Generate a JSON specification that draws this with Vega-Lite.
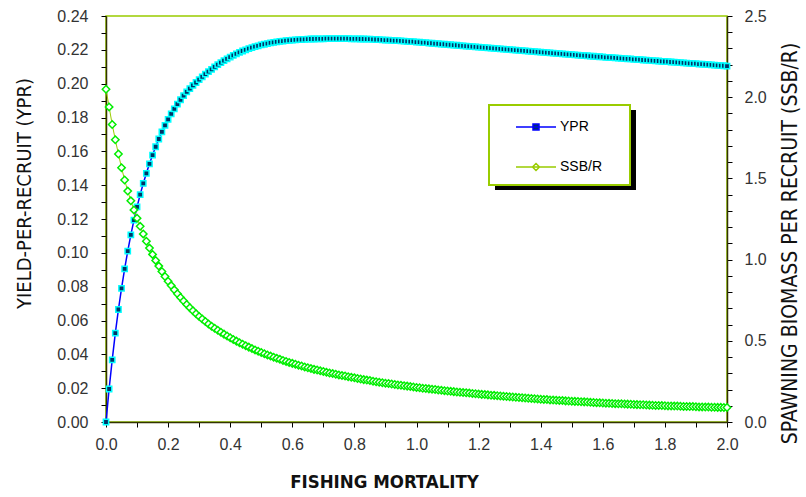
{
"$schema": "https://vega.github.io/schema/vega-lite/v6.json",
"width": 621, "height": 406,
"autosize": {"type": "none"},
"padding": {"left": 106, "top": 16, "right": 79, "bottom": 75},
"background": "white",
"config": {"view": {"stroke": "#99cc00", "strokeWidth": 1.5}, "font": "Liberation Sans"},
"data": {"values": [
{"F":0,"YPR":0,"SSB":2.049},{"F":0.01,"YPR":0.0195,"SSB":1.94},{"F":0.02,"YPR":0.0367,"SSB":1.832},{"F":0.03,"YPR":0.0525,"SSB":1.738},{"F":0.04,"YPR":0.0665,"SSB":1.65},
{"F":0.05,"YPR":0.079,"SSB":1.566},{"F":0.06,"YPR":0.0905,"SSB":1.49},{"F":0.07,"YPR":0.101,"SSB":1.422},{"F":0.08,"YPR":0.1106,"SSB":1.362},{"F":0.09,"YPR":0.1193,"SSB":1.306},
{"F":0.1,"YPR":0.1272,"SSB":1.255},{"F":0.11,"YPR":0.1344,"SSB":1.205},{"F":0.12,"YPR":0.141,"SSB":1.158},{"F":0.13,"YPR":0.147,"SSB":1.113},{"F":0.14,"YPR":0.1526,"SSB":1.071},
{"F":0.15,"YPR":0.1578,"SSB":1.032},{"F":0.16,"YPR":0.1627,"SSB":0.995},{"F":0.17,"YPR":0.1673,"SSB":0.96},{"F":0.18,"YPR":0.1715,"SSB":0.927},{"F":0.19,"YPR":0.1754,"SSB":0.896},
{"F":0.2,"YPR":0.1789,"SSB":0.867},{"F":0.21,"YPR":0.1821,"SSB":0.84},{"F":0.22,"YPR":0.1851,"SSB":0.814},{"F":0.23,"YPR":0.1879,"SSB":0.79},{"F":0.24,"YPR":0.1905,"SSB":0.767},
{"F":0.25,"YPR":0.1929,"SSB":0.745},{"F":0.26,"YPR":0.1951,"SSB":0.724},{"F":0.27,"YPR":0.1971,"SSB":0.704},{"F":0.28,"YPR":0.199,"SSB":0.685},{"F":0.29,"YPR":0.2007,"SSB":0.667},
{"F":0.3,"YPR":0.2024,"SSB":0.65},{"F":0.31,"YPR":0.204,"SSB":0.634},{"F":0.32,"YPR":0.2056,"SSB":0.619},{"F":0.33,"YPR":0.2071,"SSB":0.604},{"F":0.34,"YPR":0.2085,"SSB":0.59},
{"F":0.35,"YPR":0.2099,"SSB":0.577},{"F":0.36,"YPR":0.2112,"SSB":0.565},{"F":0.37,"YPR":0.2124,"SSB":0.553},{"F":0.38,"YPR":0.2136,"SSB":0.541},{"F":0.39,"YPR":0.2147,"SSB":0.53},
{"F":0.4,"YPR":0.2157,"SSB":0.519},{"F":0.41,"YPR":0.2167,"SSB":0.508},{"F":0.42,"YPR":0.2176,"SSB":0.498},{"F":0.43,"YPR":0.2185,"SSB":0.488},{"F":0.44,"YPR":0.2193,"SSB":0.479},
{"F":0.45,"YPR":0.22,"SSB":0.47},{"F":0.46,"YPR":0.2207,"SSB":0.461},{"F":0.47,"YPR":0.2213,"SSB":0.452},{"F":0.48,"YPR":0.2219,"SSB":0.444},{"F":0.49,"YPR":0.2224,"SSB":0.436},
{"F":0.5,"YPR":0.2229,"SSB":0.428},{"F":0.51,"YPR":0.2233,"SSB":0.42},{"F":0.52,"YPR":0.2237,"SSB":0.413},{"F":0.53,"YPR":0.2241,"SSB":0.406},{"F":0.54,"YPR":0.2244,"SSB":0.399},
{"F":0.55,"YPR":0.2247,"SSB":0.392},{"F":0.56,"YPR":0.225,"SSB":0.386},{"F":0.57,"YPR":0.2252,"SSB":0.379},{"F":0.58,"YPR":0.2254,"SSB":0.373},{"F":0.59,"YPR":0.2256,"SSB":0.367},
{"F":0.6,"YPR":0.2258,"SSB":0.361},{"F":0.61,"YPR":0.2259,"SSB":0.356},{"F":0.62,"YPR":0.226,"SSB":0.35},{"F":0.63,"YPR":0.2261,"SSB":0.345},{"F":0.64,"YPR":0.2262,"SSB":0.339},
{"F":0.65,"YPR":0.2263,"SSB":0.334},{"F":0.66,"YPR":0.2264,"SSB":0.329},{"F":0.67,"YPR":0.2264,"SSB":0.324},{"F":0.68,"YPR":0.2265,"SSB":0.32},{"F":0.69,"YPR":0.2265,"SSB":0.315},
{"F":0.7,"YPR":0.2265,"SSB":0.311},{"F":0.71,"YPR":0.2266,"SSB":0.306},{"F":0.72,"YPR":0.2266,"SSB":0.302},{"F":0.73,"YPR":0.2266,"SSB":0.298},{"F":0.74,"YPR":0.2266,"SSB":0.294},
{"F":0.75,"YPR":0.2266,"SSB":0.29},{"F":0.76,"YPR":0.2266,"SSB":0.286},{"F":0.77,"YPR":0.2266,"SSB":0.283},{"F":0.78,"YPR":0.2266,"SSB":0.279},{"F":0.79,"YPR":0.2265,"SSB":0.275},
{"F":0.8,"YPR":0.2265,"SSB":0.272},{"F":0.81,"YPR":0.2265,"SSB":0.268},{"F":0.82,"YPR":0.2264,"SSB":0.265},{"F":0.83,"YPR":0.2264,"SSB":0.261},{"F":0.84,"YPR":0.2263,"SSB":0.258},
{"F":0.85,"YPR":0.2263,"SSB":0.255},{"F":0.86,"YPR":0.2262,"SSB":0.251},{"F":0.87,"YPR":0.2261,"SSB":0.248},{"F":0.88,"YPR":0.226,"SSB":0.245},{"F":0.89,"YPR":0.2259,"SSB":0.242},
{"F":0.9,"YPR":0.2258,"SSB":0.239},{"F":0.91,"YPR":0.2257,"SSB":0.237},{"F":0.92,"YPR":0.2256,"SSB":0.234},{"F":0.93,"YPR":0.2255,"SSB":0.231},{"F":0.94,"YPR":0.2254,"SSB":0.228},
{"F":0.95,"YPR":0.2253,"SSB":0.226},{"F":0.96,"YPR":0.2252,"SSB":0.223},{"F":0.97,"YPR":0.225,"SSB":0.221},{"F":0.98,"YPR":0.2249,"SSB":0.218},{"F":0.99,"YPR":0.2248,"SSB":0.216},
{"F":1,"YPR":0.2246,"SSB":0.213},{"F":1.01,"YPR":0.2245,"SSB":0.211},{"F":1.02,"YPR":0.2243,"SSB":0.208},{"F":1.03,"YPR":0.2242,"SSB":0.206},{"F":1.04,"YPR":0.224,"SSB":0.204},
{"F":1.05,"YPR":0.2239,"SSB":0.202},{"F":1.06,"YPR":0.2237,"SSB":0.2},{"F":1.07,"YPR":0.2236,"SSB":0.197},{"F":1.08,"YPR":0.2234,"SSB":0.195},{"F":1.09,"YPR":0.2233,"SSB":0.193},
{"F":1.1,"YPR":0.2231,"SSB":0.191},{"F":1.11,"YPR":0.223,"SSB":0.189},{"F":1.12,"YPR":0.2228,"SSB":0.187},{"F":1.13,"YPR":0.2227,"SSB":0.185},{"F":1.14,"YPR":0.2225,"SSB":0.183},
{"F":1.15,"YPR":0.2224,"SSB":0.181},{"F":1.16,"YPR":0.2222,"SSB":0.18},{"F":1.17,"YPR":0.2221,"SSB":0.178},{"F":1.18,"YPR":0.2219,"SSB":0.176},{"F":1.19,"YPR":0.2218,"SSB":0.174},
{"F":1.2,"YPR":0.2216,"SSB":0.172},{"F":1.21,"YPR":0.2215,"SSB":0.17},{"F":1.22,"YPR":0.2213,"SSB":0.169},{"F":1.23,"YPR":0.2212,"SSB":0.167},{"F":1.24,"YPR":0.221,"SSB":0.165},
{"F":1.25,"YPR":0.2209,"SSB":0.164},{"F":1.26,"YPR":0.2207,"SSB":0.162},{"F":1.27,"YPR":0.2206,"SSB":0.16},{"F":1.28,"YPR":0.2204,"SSB":0.159},{"F":1.29,"YPR":0.2203,"SSB":0.157},
{"F":1.3,"YPR":0.2201,"SSB":0.155},{"F":1.31,"YPR":0.22,"SSB":0.154},{"F":1.32,"YPR":0.2198,"SSB":0.152},{"F":1.33,"YPR":0.2197,"SSB":0.151},{"F":1.34,"YPR":0.2195,"SSB":0.149},
{"F":1.35,"YPR":0.2194,"SSB":0.148},{"F":1.36,"YPR":0.2192,"SSB":0.146},{"F":1.37,"YPR":0.2191,"SSB":0.145},{"F":1.38,"YPR":0.2189,"SSB":0.143},{"F":1.39,"YPR":0.2188,"SSB":0.142},
{"F":1.4,"YPR":0.2186,"SSB":0.14},{"F":1.41,"YPR":0.2185,"SSB":0.139},{"F":1.42,"YPR":0.2183,"SSB":0.138},{"F":1.43,"YPR":0.2182,"SSB":0.136},{"F":1.44,"YPR":0.218,"SSB":0.135},
{"F":1.45,"YPR":0.2179,"SSB":0.134},{"F":1.46,"YPR":0.2177,"SSB":0.133},{"F":1.47,"YPR":0.2176,"SSB":0.132},{"F":1.48,"YPR":0.2175,"SSB":0.13},{"F":1.49,"YPR":0.2173,"SSB":0.129},
{"F":1.5,"YPR":0.2172,"SSB":0.128},{"F":1.51,"YPR":0.217,"SSB":0.127},{"F":1.52,"YPR":0.2169,"SSB":0.126},{"F":1.53,"YPR":0.2167,"SSB":0.125},{"F":1.54,"YPR":0.2166,"SSB":0.124},
{"F":1.55,"YPR":0.2165,"SSB":0.123},{"F":1.56,"YPR":0.2163,"SSB":0.121},{"F":1.57,"YPR":0.2162,"SSB":0.12},{"F":1.58,"YPR":0.216,"SSB":0.119},{"F":1.59,"YPR":0.2159,"SSB":0.118},
{"F":1.6,"YPR":0.2158,"SSB":0.117},{"F":1.61,"YPR":0.2156,"SSB":0.116},{"F":1.62,"YPR":0.2155,"SSB":0.115},{"F":1.63,"YPR":0.2154,"SSB":0.114},{"F":1.64,"YPR":0.2152,"SSB":0.113},
{"F":1.65,"YPR":0.2151,"SSB":0.112},{"F":1.66,"YPR":0.215,"SSB":0.112},{"F":1.67,"YPR":0.2148,"SSB":0.111},{"F":1.68,"YPR":0.2147,"SSB":0.11},{"F":1.69,"YPR":0.2146,"SSB":0.109},
{"F":1.7,"YPR":0.2144,"SSB":0.108},{"F":1.71,"YPR":0.2143,"SSB":0.107},{"F":1.72,"YPR":0.2142,"SSB":0.106},{"F":1.73,"YPR":0.214,"SSB":0.106},{"F":1.74,"YPR":0.2139,"SSB":0.105},
{"F":1.75,"YPR":0.2138,"SSB":0.104},{"F":1.76,"YPR":0.2136,"SSB":0.103},{"F":1.77,"YPR":0.2135,"SSB":0.102},{"F":1.78,"YPR":0.2134,"SSB":0.102},{"F":1.79,"YPR":0.2132,"SSB":0.101},
{"F":1.8,"YPR":0.2131,"SSB":0.1},{"F":1.81,"YPR":0.213,"SSB":0.099},{"F":1.82,"YPR":0.2128,"SSB":0.099},{"F":1.83,"YPR":0.2127,"SSB":0.098},{"F":1.84,"YPR":0.2126,"SSB":0.098},
{"F":1.85,"YPR":0.2124,"SSB":0.097},{"F":1.86,"YPR":0.2123,"SSB":0.096},{"F":1.87,"YPR":0.2122,"SSB":0.096},{"F":1.88,"YPR":0.212,"SSB":0.095},{"F":1.89,"YPR":0.2119,"SSB":0.095},
{"F":1.9,"YPR":0.2118,"SSB":0.094},{"F":1.91,"YPR":0.2116,"SSB":0.093},{"F":1.92,"YPR":0.2115,"SSB":0.093},{"F":1.93,"YPR":0.2114,"SSB":0.092},{"F":1.94,"YPR":0.2112,"SSB":0.092},
{"F":1.95,"YPR":0.2111,"SSB":0.091},{"F":1.96,"YPR":0.211,"SSB":0.091},{"F":1.97,"YPR":0.2108,"SSB":0.09},{"F":1.98,"YPR":0.2107,"SSB":0.09},{"F":1.99,"YPR":0.2106,"SSB":0.089},
{"F":2,"YPR":0.2104,"SSB":0.089}
]},
"layer": [
{
"layer": [
{
"mark": {"type": "line", "strokeWidth": 1.5},
"encoding": {
"x": {"field": "F", "type": "quantitative", "scale": {"domain": [0, 2], "nice": false},
"axis": {"values": [0,0.1,0.2,0.3,0.4,0.5,0.6,0.7,0.8,0.9,1,1.1,1.2,1.3,1.4,1.5,1.6,1.7,1.8,1.9,2], "tickCount": 200,
"labelExpr": "round(datum.value*10) % 2 === 0 ? format(datum.value, '.1f') : ''",
"grid": false, "domainColor": "#333300", "domainWidth": 1.5, "tickColor": "#000", "tickSize": 5, "tickWidth": 1,
"labelFont": "Liberation Sans", "labelFontSize": 16, "labelColor": "#333", "labelPadding": 9,
"labelFlush": false, "labelOverlap": false, "labelBound": false,
"title": "FISHING MORTALITY", "titleFont": "Liberation Sans Narrow, Arial Narrow, DejaVu Sans Condensed, sans-serif", "titleFontSize": 18.5, "titleFontWeight": "bold", "titleColor": "#111",
"titleX": 278, "titleY": 59, "titleAlign": "center", "titleBaseline": "middle"}},
"y": {"field": "YPR", "type": "quantitative", "scale": {"domain": [0, 0.24], "nice": false},
"axis": {"values": [0,0.01,0.02,0.03,0.04,0.05,0.06,0.07,0.08,0.09,0.1,0.11,0.12,0.13,0.14,0.15,0.16,0.17,0.18,0.19,0.2,0.21,0.22,0.23,0.24], "tickCount": 200,
"labelExpr": "round(datum.value*100) % 2 === 0 ? format(datum.value, '.2f') : ''",
"grid": false, "domainColor": "#333300", "domainWidth": 1.5, "tickColor": "#000", "tickSize": 5, "tickWidth": 1,
"labelFont": "Liberation Sans", "labelFontSize": 16, "labelColor": "#333", "labelPadding": 13,
"labelFlush": false, "labelOverlap": false, "labelBound": false,
"title": "YIELD-PER-RECRUIT (YPR)", "titleFont": "Liberation Sans Narrow, Arial Narrow, DejaVu Sans Condensed, sans-serif", "titleFontSize": 20, "titleFontWeight": "normal", "titleColor": "#111",
"titleX": -82, "titleY": 177, "titleAngle": -90, "titleAlign": "center", "titleBaseline": "middle",
"encode": {
"ticks": {"update": {"x": {"value": 5}, "x2": {"signal": "round(datum.value*100) % 2 === 0 ? -5 : 0"}}},
"labels": {"update": {"fontSize": {"signal": "round(datum.value*100) % 2 === 0 ? 16 : 0"}}}}}},
"color": {"datum": "YPR", "type": "nominal", "scale": {"domain": ["YPR", "SSB/R"], "range": ["#0000ff", "#99cc00"]},
"legend": {"orient": "none", "legendX": 383, "legendY": 89, "title": null,
"strokeColor": null, "fillColor": null, "padding": 11, "rowPadding": 22, "cornerRadius": 0,
"symbolSize": 400, "symbolOffset": 25, "labelOffset": 13, "labelFont": "Liberation Sans", "labelFontSize": 14, "labelColor": "#000",
"encode": {
"symbols": {"update": {
"shape": {"signal": "datum.value === 'YPR' ? 'M-2,0H2M-0.3,-0.3H0.3V0.3H-0.3Z' : 'M-2,0H2M0,-0.35L0.35,0L0,0.35L-0.35,0Z'"},
"fill": {"signal": "datum.value === 'YPR' ? '#003366' : 'white'"},
"stroke": {"signal": "datum.value === 'YPR' ? '#0000ff' : '#00dd00'"},
"strokeWidth": {"value": 1.5}, "opacity": {"value": 1}}}}}}
}
},
{
"mark": {"type": "point", "shape": "square", "size": 28, "filled": true, "fill": "#003366", "stroke": "#00ffff", "strokeWidth": 1.5, "opacity": 1},
"encoding": {"x": {"field": "F", "type": "quantitative"}, "y": {"field": "YPR", "type": "quantitative"}}
},
{
"data": {"values": [{}]},
"mark": {"type": "rect", "fill": "#000"},
"encoding": {"x": {"datum": 1.2528, "type": "quantitative"}, "x2": {"datum": 1.7069}, "y": {"datum": 0.18443, "type": "quantitative"}, "y2": {"datum": 0.13714}}
},
{
"data": {"values": [{}]},
"mark": {"type": "rect", "fill": "white", "stroke": "#99cc00", "strokeWidth": 2},
"encoding": {"x": {"datum": 1.2335, "type": "quantitative"}, "x2": {"datum": 1.6876}, "y": {"datum": 0.18739, "type": "quantitative"}, "y2": {"datum": 0.1401}}
}
]
},
{
"layer": [
{
"mark": {"type": "line", "strokeWidth": 1},
"encoding": {
"x": {"field": "F", "type": "quantitative"},
"y": {"field": "SSB", "type": "quantitative", "scale": {"domain": [0, 2.5], "nice": false},
"axis": {"orient": "right", "values": [0,0.1,0.2,0.3,0.4,0.5,0.6,0.7,0.8,0.9,1,1.1,1.2,1.3,1.4,1.5,1.6,1.7,1.8,1.9,2,2.1,2.2,2.3,2.4,2.5], "tickCount": 200,
"labelExpr": "round(datum.value*10) % 5 === 0 ? format(datum.value, '.1f') : ''",
"grid": false, "domainColor": "#333300", "domainWidth": 1.5, "tickColor": "#000", "tickSize": 5, "tickWidth": 1,
"labelFont": "Liberation Sans", "labelFontSize": 16, "labelColor": "#333", "labelPadding": 12,
"labelFlush": false, "labelOverlap": false, "labelBound": false,
"title": "SPAWNING BIOMASS PER RECRUIT (SSB/R)", "titleFont": "Liberation Sans Narrow, Arial Narrow, DejaVu Sans Condensed, sans-serif", "titleFontSize": 21, "titleFontWeight": "normal", "titleColor": "#111",
"titleX": 63, "titleY": 227, "titleAngle": -90, "titleAlign": "center", "titleBaseline": "middle",
"encode": {
"ticks": {"update": {"x": {"value": -5}, "x2": {"signal": "round(datum.value*10) % 5 === 0 ? 5 : 0"}}},
"labels": {"update": {"fontSize": {"signal": "round(datum.value*10) % 5 === 0 ? 16 : 0"}}}}}},
"color": {"datum": "SSB/R", "type": "nominal"}
}
},
{
"mark": {"type": "point", "shape": "diamond", "size": 55, "filled": true, "fill": "white", "stroke": "#00ee00", "strokeWidth": 1.5, "opacity": 1},
"encoding": {"x": {"field": "F", "type": "quantitative"}, "y": {"field": "SSB", "type": "quantitative"}}
}
]
}
],
"resolve": {"scale": {"y": "independent"}}
}
